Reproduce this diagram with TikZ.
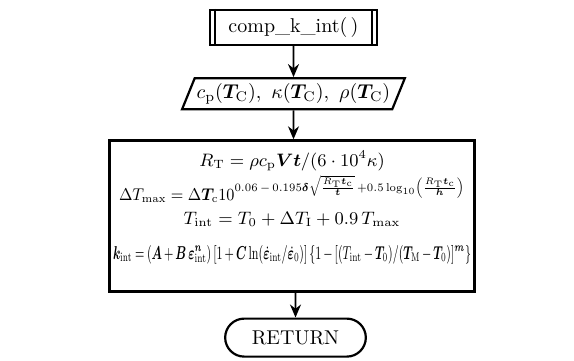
\documentclass[tikz,border=0pt]{standalone}
\usepackage{amsmath}
\usepackage{bm}
\usetikzlibrary{arrows.meta, positioning, shapes.geometric, shapes.misc}

\begin{document}
\begin{tikzpicture}[
    >=Stealth,
    box/.style={draw, line width=1.1pt, font=\normalsize},
    procbox/.style={box, rectangle, minimum width=83.5pt, minimum height=17.5pt},
    iobox/.style={box, trapezium, trapezium left angle=63, trapezium right angle=117,
                  trapezium stretches body, minimum width=102pt, minimum height=15.5pt,
                  inner sep=1pt},
    calcbox/.style={box, rectangle, minimum width=182.5pt, minimum height=75.5pt},
    formula/.style={anchor=base, inner sep=0pt, font=\small},
    endbox/.style={box, rounded rectangle, minimum width=77pt, minimum height=19pt},
    flow/.style={->, line width=0.8pt, >={Stealth[length=6.5pt, width=5.5pt]}}
  ]
  \useasboundingbox (0,0) rectangle (287pt,-180pt);

  \node[procbox] (start) at (146.75pt,-13.75pt) {comp\_k\_int(\,)};
  \node[iobox, below=15.5pt of start] (props)
    {$c_{\mathrm{p}}(\bm{T}_{\mathrm{C}}),\ \kappa(\bm{T}_{\mathrm{C}}),\ \rho(\bm{T}_{\mathrm{C}})$};
  \node[calcbox, below=14.5pt of props, xshift=-0.75pt] (calc) {};
  \node[endbox, below=12.5pt of calc, xshift=1.75pt] (ret) {RETURN};

  % formulas inside the calculation box
  \node[formula] (rt) at ([yshift=-13.5pt]calc.north)
    {$R_{\mathrm{T}} = \rho c_{\mathrm{p}}\bm{Vt}/(6\cdot 10^{4}\kappa)$};
  \node[formula] (dtmax) at ([yshift=-30.5pt]calc.north)
    {\resizebox{173pt}{!}{\scalebox{1}[1.08]{%
     $\Delta T_{\max} = \Delta\bm{T}_{\mathrm{c}}10^{0.06\,-\,0.195\bm{\delta}\sqrt{\frac{R_{\mathrm{T}}\bm{t}_{\mathrm{c}}}{\bm{t}}}\,+0.5\log_{10}\left(\frac{R_{\mathrm{T}}\bm{t}_{\mathrm{c}}}{\bm{h}}\right)}$}}};
  \node[formula] (tint) at ([yshift=-42.5pt]calc.north)
    {$T_{\mathrm{int}} = T_{0} + \Delta T_{\mathrm{I}} + 0.9\,T_{\max}$};
  \node[formula] (kint) at ([yshift=-60pt]calc.north)
    {\resizebox{179pt}{!}{\scalebox{1}[1.6]{\medmuskip=3mu\thickmuskip=4mu
     $\bm{k}_{\mathrm{int}} = (\bm{A} + \bm{B}\,\bm{\varepsilon}^{\bm{n}}_{\mathrm{int}})\,[1 + \bm{C}\ln(\dot{\bm{\varepsilon}}_{\mathrm{int}}/\dot{\bm{\varepsilon}}_{0})]\,\{1 - [(T_{\mathrm{int}} - \bm{T}_{0})/(\bm{T}_{\mathrm{M}} - \bm{T}_{0})]^{\bm{m}}\}$}}};

  % inner bars of the subroutine box
  \draw[line width=0.8pt] ([xshift=3pt]start.north west) -- ([xshift=3pt]start.south west);
  \draw[line width=0.8pt] ([xshift=-3pt]start.north east) -- ([xshift=-3pt]start.south east);

  \draw[flow] (start) -- (props);
  \draw[flow] (props) -- (props.south |- calc.north);
  \draw[flow] (calc.south -| ret.north) -- (ret);
\end{tikzpicture}
\end{document}
